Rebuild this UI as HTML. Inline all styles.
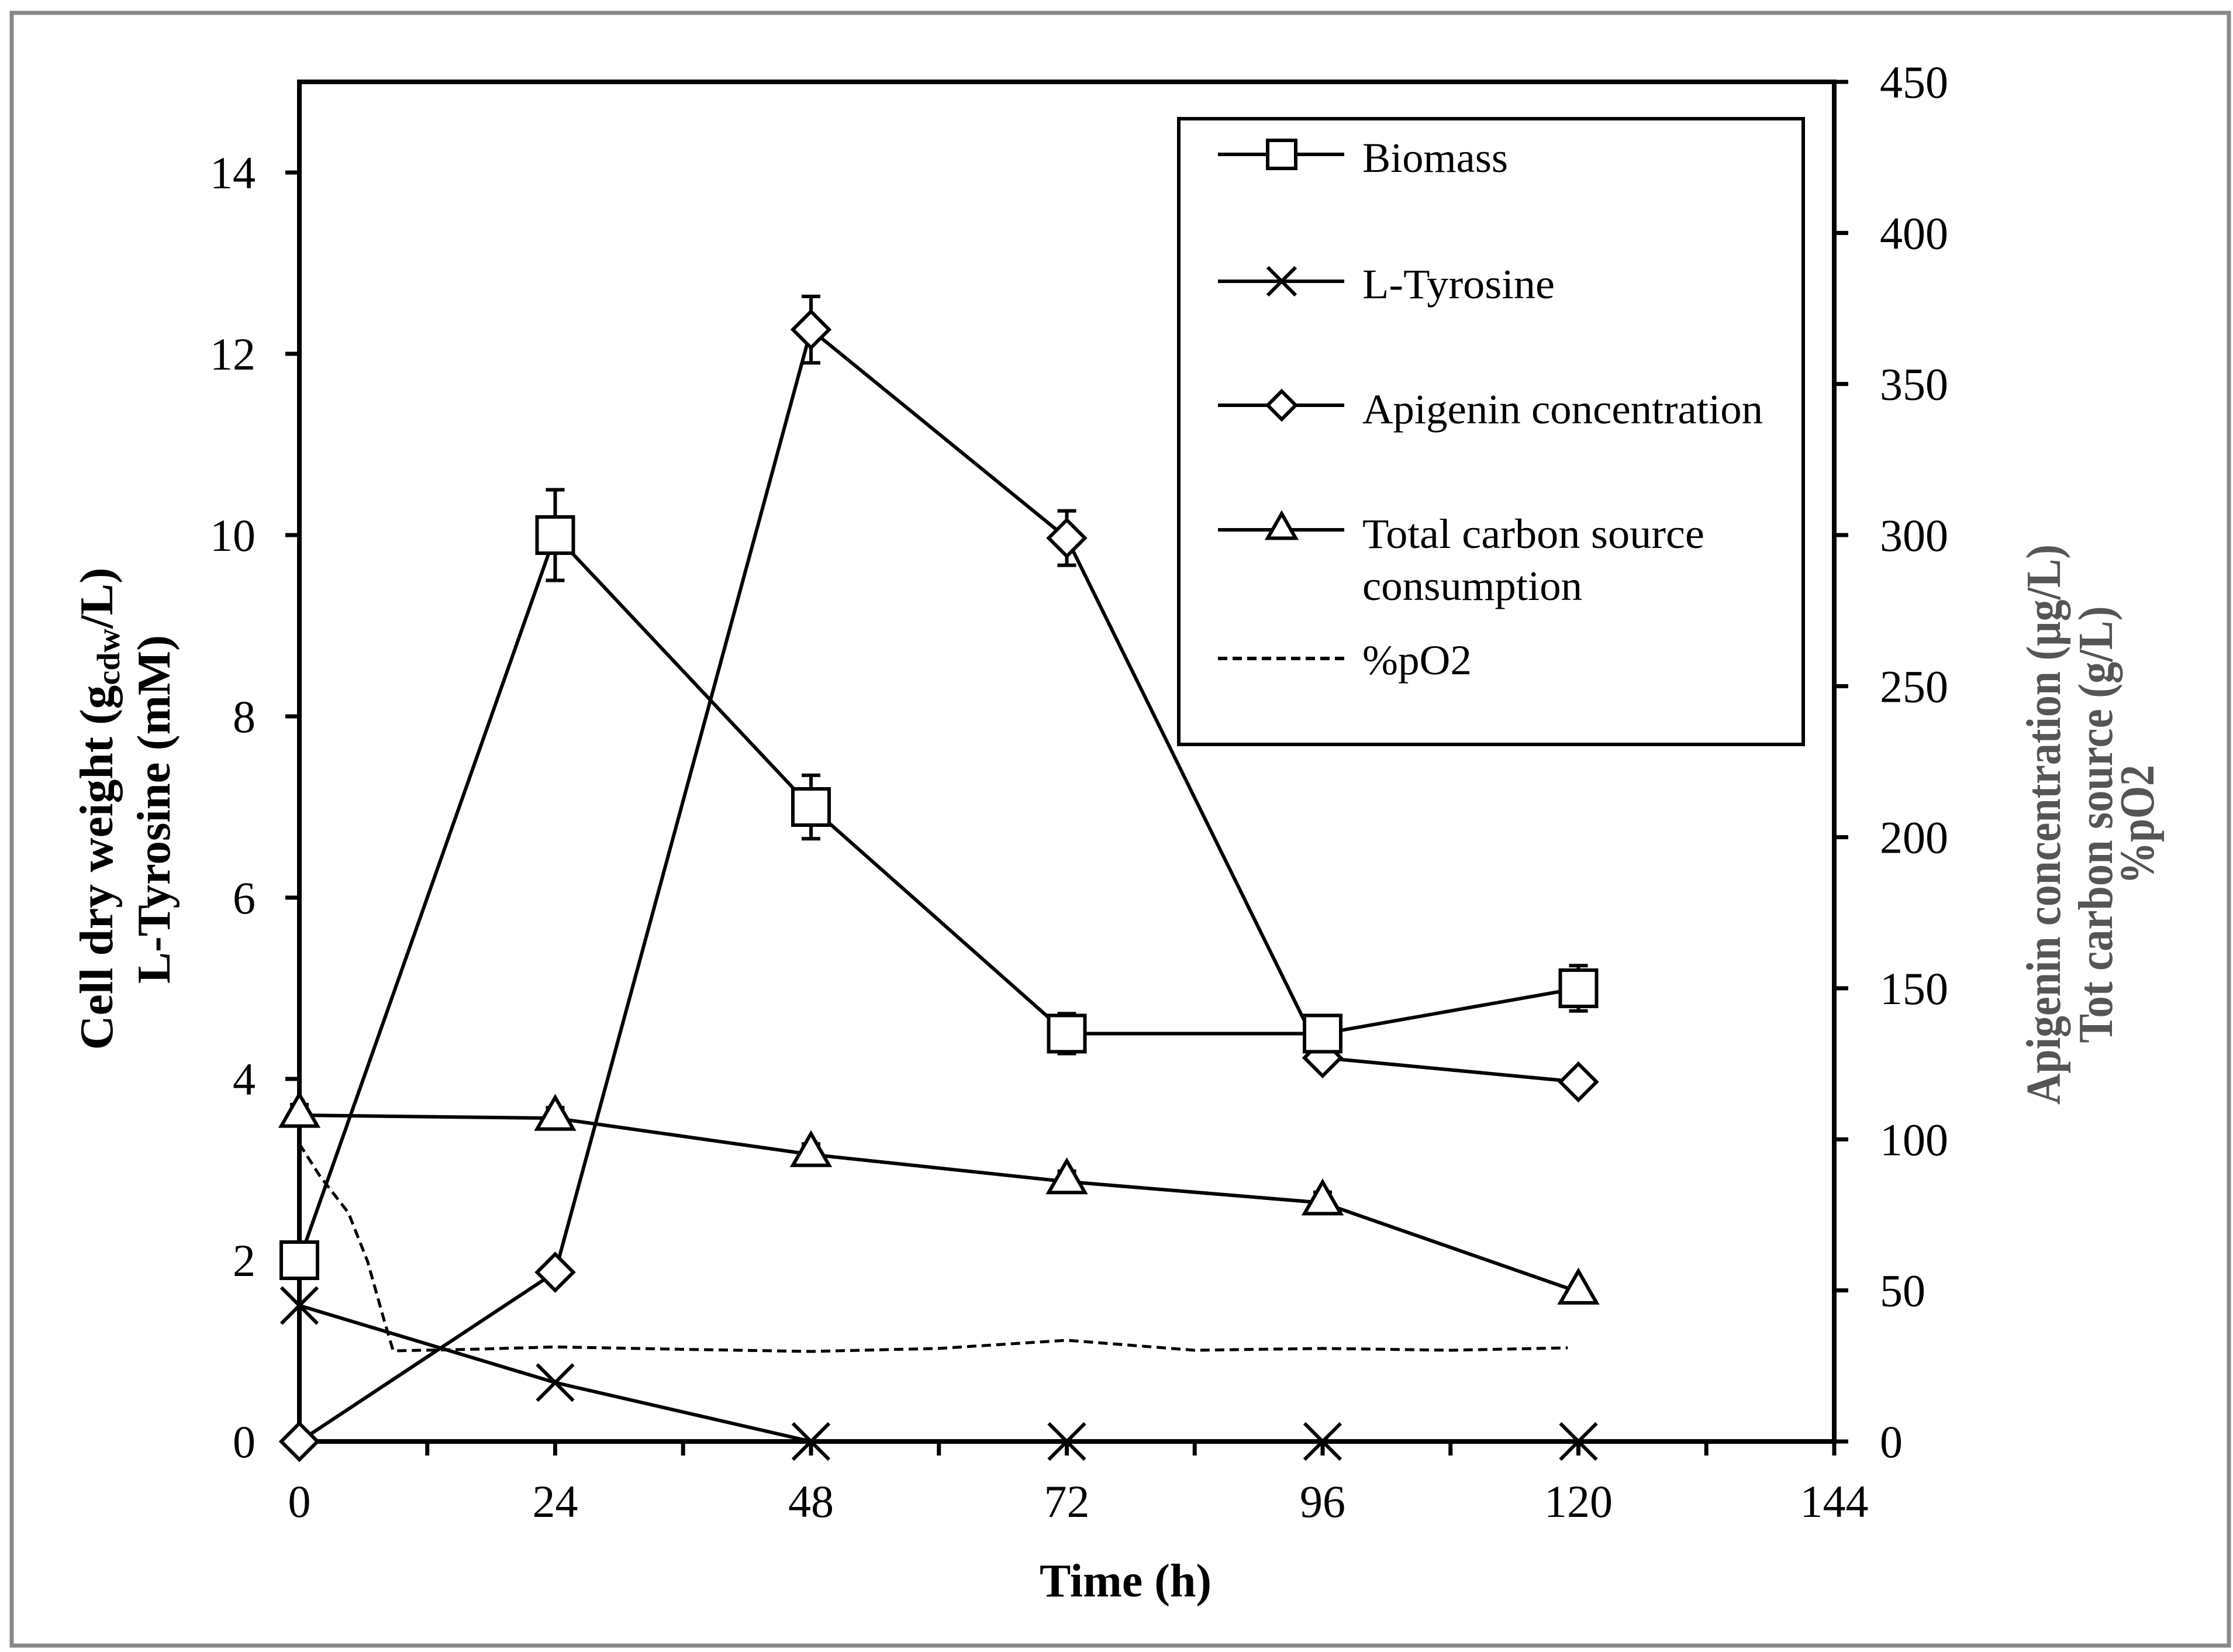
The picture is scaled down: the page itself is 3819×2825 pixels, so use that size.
<!DOCTYPE html>
<html><head><meta charset="utf-8"><style>
html,body{margin:0;padding:0;background:#fff;}
svg{display:block;}
svg text{font-family:"Liberation Serif","Times New Roman",serif;}
</style></head><body>
<svg id="chart" width="3819" height="2825" viewBox="0 0 3819 2825" xmlns="http://www.w3.org/2000/svg" font-family="Liberation Serif, serif">
<rect x="20" y="22" width="3792" height="2792" fill="#fff" stroke="#888" stroke-width="7"/>
<g id="axes"></g>
<g id="series"></g>
<g id="legend">
 <rect x="2016" y="203" width="1068" height="1070" fill="#fff" stroke="#000" stroke-width="6"/>
</g>
<text transform="translate(192,1383) rotate(-90)" text-anchor="middle" font-weight="bold" font-size="80" textLength="825" lengthAdjust="spacingAndGlyphs">Cell dry weight (g<tspan font-size="55" dy="12">cdw</tspan><tspan dy="-12">/L)</tspan></text>
<text transform="translate(290,1384) rotate(-90)" text-anchor="middle" font-weight="bold" font-size="80" textLength="596" lengthAdjust="spacingAndGlyphs">L-Tyrosine (mM)</text>
<text transform="translate(3523,1410) rotate(-90)" text-anchor="middle" font-weight="bold" font-size="84" fill="#555" textLength="958" lengthAdjust="spacingAndGlyphs">Apigenin concentration (µg/L)</text>
<text transform="translate(3612,1410) rotate(-90)" text-anchor="middle" font-weight="bold" font-size="84" fill="#555" textLength="747" lengthAdjust="spacingAndGlyphs">Tot carbon source (g/L)</text>
<text transform="translate(3683,1410) rotate(-90)" text-anchor="middle" font-weight="bold" font-size="84" fill="#555" textLength="204" lengthAdjust="spacingAndGlyphs">%pO2</text>
<text x="1925" y="2730" text-anchor="middle" font-weight="bold" font-size="80">Time (h)</text>
</svg>
<script>
const times = [0, 24, 48, 72, 96, 120];
const biomass = [2, 10, 7, 4.5, 4.5, 5];
const biomassErr = [0, 0.5, 0.35, 0.22, 0.15, 0.25];
const tyrosine = [1.5, 0.65, 0, 0, 0, 0];
const apigenin = [0, 56, 368, 299, 127, 119];
const apigeninErr = [0, 0, 11, 9, 3, 0];
const carbon = [108, 107, 95, 86, 79, 49.5];
const carbonErr = [3.5, 3.5, 3.5, 3.5, 3.5, 0];
const po2Times = [0, 1.9, 4.6, 6.4, 7.8, 8.8, 16, 24, 36, 48, 60, 72, 84, 96, 108, 119];
const po2Values = [98.5, 88, 75.7, 59.6, 42, 30, 30.5, 31.3, 30.5, 29.8, 30.8, 33.5, 30.2, 30.8, 30.2, 31];
const xTicks = [0, 24, 48, 72, 96, 120, 144];
const yLeftTicks = [0, 2, 4, 6, 8, 10, 12, 14];
const yRightTicks = [0, 50, 100, 150, 200, 250, 300, 350, 400, 450];

const NS = "http://www.w3.org/2000/svg";
const X0 = 512, X1 = 3137, Y0 = 2465, YT = 140;
const xS = t => X0 + t * (X1 - X0) / 144;
const yL = v => Y0 - v * (Y0 - YT) / 15;
const yR = v => Y0 - v * (Y0 - YT) / 450;
function mk(tag, attrs, parent) {
  const e = document.createElementNS(NS, tag);
  for (const k in attrs) e.setAttribute(k, attrs[k]);
  parent.appendChild(e);
  return e;
}
const axes = document.getElementById('axes');
const ser = document.getElementById('series');

let a = mk('line', {x1: X0, y1: YT, x2: X0, y2: Y0, stroke: '#000', 'stroke-width': 8}, axes);


a = mk('line', {x1: X1, y1: YT, x2: X1, y2: Y0, stroke: '#000', 'stroke-width': 8}, axes);


a = mk('line', {x1: X0 - 4, y1: Y0, x2: X1 + 4, y2: Y0, stroke: '#000', 'stroke-width': 8}, axes);


a = mk('line', {x1: X0 - 4, y1: YT, x2: X1 + 4, y2: YT, stroke: '#000', 'stroke-width': 8}, axes);



for (let t = 0; t <= 144; t += 12) {
  const tk = mk('line', {x1: xS(t), y1: Y0, x2: xS(t), y2: Y0 + 24, stroke: '#000', 'stroke-width': 7}, axes);
  
  
}
const SERIF = 'Liberation Serif, Times New Roman, serif';
xTicks.forEach(t => {
  const tx = mk('text', {x: xS(t), y: 2594, 'text-anchor': 'middle', 'font-size': 78, 'font-family': SERIF}, axes);
  tx.textContent = t;
  
  
});
yLeftTicks.forEach(v => {
  const tk = mk('line', {x1: X0 - 24, y1: yL(v), x2: X0, y2: yL(v), stroke: '#000', 'stroke-width': 7}, axes);
  
  
  const tx = mk('text', {x: 437, y: yL(v) + 27, 'text-anchor': 'end', 'font-size': 78, 'font-family': SERIF}, axes);
  tx.textContent = v;
  
  
});
yRightTicks.forEach(v => {
  const tk = mk('line', {x1: X1, y1: yR(v), x2: X1 + 24, y2: yR(v), stroke: '#000', 'stroke-width': 7}, axes);
  
  
  const tx = mk('text', {x: 3215, y: yR(v) + 27, 'text-anchor': 'start', 'font-size': 78, 'font-family': SERIF}, axes);
  tx.textContent = v;
  
  
});

function marker(kind, cx, cy, s, parent) {
  let e;
  const h = s / 2;
  if (kind === 'square') e = mk('rect', {x: cx - h, y: cy - h, width: s, height: s}, parent);
  else if (kind === 'diamond') e = mk('polygon', {points: `${cx},${cy-h} ${cx+h},${cy} ${cx},${cy+h} ${cx-h},${cy}`}, parent);
  else if (kind === 'triangle') e = mk('polygon', {points: `${cx},${cy-h*1.15} ${cx+h},${cy+h*0.6} ${cx-h},${cy+h*0.6}`}, parent);
  else if (kind === 'x') e = mk('path', {d: `M${cx-h},${cy-h}L${cx+h},${cy+h}M${cx-h},${cy+h}L${cx+h},${cy-h}`}, parent);
  e.setAttribute('fill', '#fff');
  e.setAttribute('stroke', '#000');
  e.setAttribute('stroke-width', 6);
  return e;
}
function drawSeries(name, vals, errs, yf, kind, size) {
  const g = mk('g', {}, ser);
  
  
  const pts = times.map((t, i) => xS(t) + ',' + yf(vals[i])).join(' ');
  const pl = mk('polyline', {points: pts, fill: 'none', stroke: '#000', 'stroke-width': 6}, g);
  
  
  if (errs) times.forEach((t, i) => {
    if (!errs[i]) return;
    const x = xS(t), y1 = yf(vals[i] + errs[i]), y2 = yf(vals[i] - errs[i]);
    const eb = mk('path', {d: `M${x},${y1}L${x},${y2}M${x-16},${y1}L${x+16},${y1}M${x-16},${y2}L${x+16},${y2}`, stroke: '#000', 'stroke-width': 6, fill: 'none'}, g);
    
    
  });
  times.forEach((t, i) => {
    const m = marker(kind, xS(t), yf(vals[i]), size, g);
    
    
  });
}
const po2 = mk('polyline', {points: po2Times.map((t, i) => xS(t) + ',' + yR(po2Values[i])).join(' '), fill: 'none', stroke: '#000', 'stroke-width': 5, 'stroke-dasharray': '16,9'}, ser);


drawSeries('tyrosine', tyrosine, null, yL, 'x', 62);
drawSeries('carbon', carbon, carbonErr, yR, 'triangle', 62);
drawSeries('apigenin', apigenin, apigeninErr, yR, 'diamond', 62);
drawSeries('biomass', biomass, biomassErr, yL, 'square', 62);

const leg = document.getElementById('legend');
const legendItems = [
  {kind: 'square', y: 264, label: ['Biomass'], tl: [249], by: [294], name: 'legend-biomass'},
  {kind: 'x', y: 481, label: ['L-Tyrosine'], tl: [329], by: [510], name: 'legend-tyrosine'},
  {kind: 'diamond', y: 693, label: ['Apigenin concentration'], tl: [685], by: [724], name: 'legend-apigenin'},
  {kind: 'triangle', y: 906, label: ['Total carbon source', 'consumption'], tl: [585, 376], by: [937, 1026], name: 'legend-carbon'},
  {kind: 'dash', y: 1126, label: ['%pO2'], tl: [187], by: [1153], name: 'legend-po2'}
];
legendItems.forEach(it => {
  const g = mk('g', {}, leg);
  
  
  const ln = mk('line', {x1: 2083, y1: it.y, x2: 2299, y2: it.y, stroke: '#000', 'stroke-width': 6}, g);
  if (it.kind === 'dash') ln.setAttribute('stroke-dasharray', '16,9');
  else marker(it.kind, 2192, it.y, 48, g);
  it.label.forEach((s, j) => {
    const tx = mk('text', {x: 2330, y: it.by[j], 'font-size': 72, 'font-family': SERIF, textLength: it.tl[j], lengthAdjust: 'spacingAndGlyphs'}, g);
    tx.textContent = s;
  });
});
</script>
</body></html>
